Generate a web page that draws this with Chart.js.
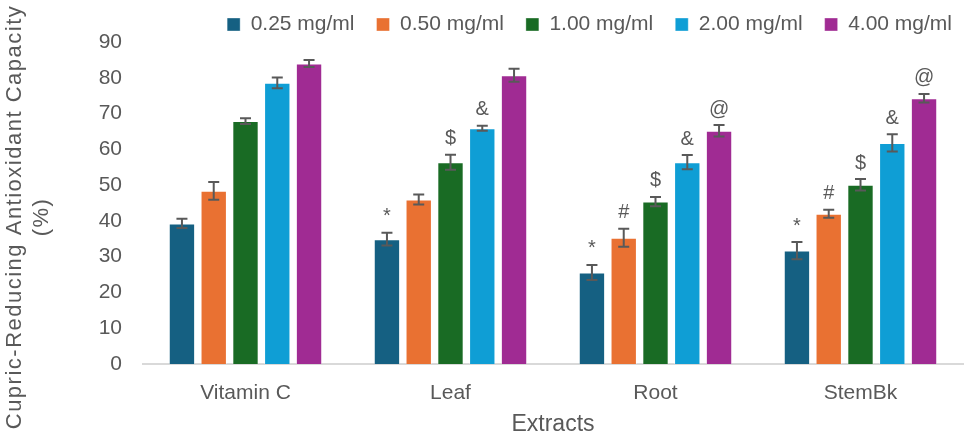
<!DOCTYPE html>
<html>
<head>
<meta charset="utf-8">
<script src="https://cdn.jsdelivr.net/npm/chart.js@4/dist/chart.umd.min.js"></script>
<style>
  html, body { margin: 0; padding: 0; background: #fff; }
  #wrap { width: 965px; height: 435px; position: relative; }
</style>
</head>
<body>
<div id="wrap"><canvas id="chart"></canvas></div>
<script>
// categories and series
const categories = [`Vitamin C`, `Leaf`, `Root`, `StemBk`];
const seriesLabels = [`0.25 mg/ml`, `0.50 mg/ml`, `1.00 mg/ml`, `2.00 mg/ml`, `4.00 mg/ml`];
const colors = [`#156082`, `#E97132`, `#196B24`, `#0F9ED5`, `#A02B93`];

// values
const conc025 = [39.3, 34.9, 25.6, 31.7];
const conc050 = [48.4, 46.0, 35.3, 42.0];
const conc100 = [67.9, 56.4, 45.4, 50.1];
const conc200 = [78.6, 65.9, 56.4, 61.8];
const conc400 = [84.0, 80.7, 65.2, 74.3];

// error bar half-heights
const err025 = [1.3, 1.8, 2.1, 2.4];
const err050 = [2.5, 1.4, 2.5, 1.1];
const err100 = [0.8, 2.1, 1.3, 1.6];
const err200 = [1.5, 0.7, 2.0, 2.4];
const err400 = [1.0, 1.8, 1.6, 1.2];

// significance marks
const mark025 = [``, `*`, `*`, `*`];
const mark050 = [``, ``, `#`, `#`];
const mark100 = [``, `$`, `$`, `$`];
const mark200 = [``, `&`, `&`, `&`];
const mark400 = [``, ``, `@`, `@`];

const yTicks = [0, 10, 20, 30, 40, 50, 60, 70, 80, 90];
const yTitle = [`Cupric-Reducing Antioxidant Capacity`, `(%)`];

const values = [conc025, conc050, conc100, conc200, conc400];
const errors = [err025, err050, err100, err200, err400];
const marks = [mark025, mark050, mark100, mark200, mark400];

const textColor = `#595959`;
const font = `"Liberation Sans", Arial, sans-serif`;

// draws error bars and the marks above them
const errorBars = {
  id: `errorBars`,
  afterDatasetsDraw(chart) {
    const ctx = chart.ctx;
    const y = chart.scales.y;
    ctx.save();
    ctx.strokeStyle = `#595959`;
    ctx.lineWidth = 2;
    ctx.fillStyle = textColor;
    ctx.font = `20px ${font}`;
    ctx.textAlign = `center`;
    ctx.textBaseline = `bottom`;
    values.forEach((series, i) => {
      const meta = chart.getDatasetMeta(i);
      series.forEach((v, j) => {
        const x = meta.data[j].x;
        const top = y.getPixelForValue(v + errors[i][j]);
        const bot = y.getPixelForValue(v - errors[i][j]);
        ctx.beginPath();
        ctx.moveTo(x, top); ctx.lineTo(x, bot);
        ctx.moveTo(x - 5.5, top); ctx.lineTo(x + 5.5, top);
        ctx.moveTo(x - 5.5, bot); ctx.lineTo(x + 5.5, bot);
        ctx.stroke();
        if (marks[i][j]) ctx.fillText(marks[i][j], x, top - 6);
      });
    });
    ctx.restore();
  }
};

// y axis title, two rotated lines with a little letter spacing
const sideTitle = {
  id: `sideTitle`,
  afterDraw(chart) {
    const ctx = chart.ctx;
    ctx.save();
    ctx.fillStyle = textColor;
    ctx.font = `22px ${font}`;
    ctx.letterSpacing = `1.5px`;
    ctx.textAlign = `center`;
    ctx.textBaseline = `middle`;
    ctx.translate(0, 217);
    ctx.rotate(-Math.PI / 2);
    ctx.fillText(yTitle[0], 0, 15);
    ctx.fillText(yTitle[1], 0, 42);
    ctx.restore();
  }
};

// fixed legend band height, and nudge the legend towards the right edge
const legendPlace = {
  id: `legendPlace`,
  beforeInit(chart) {
    const fit = chart.legend.fit;
    chart.legend.fit = function () {
      fit.bind(chart.legend)();
      this.height = 50;
    };
  },
  afterLayout(chart) {
    chart.legend.right += 11;
  }
};

new Chart(document.getElementById(`chart`), {
  type: `bar`,
  data: {
    labels: categories,
    datasets: values.map((data, i) => ({
      label: seriesLabels[i],
      data: data,
      backgroundColor: colors[i],
      borderColor: `rgba(255,255,255,0.35)`,
      borderWidth: 1,
      categoryPercentage: 0.775,
      barPercentage: 0.83
    }))
  },
  options: {
    responsive: true,
    maintainAspectRatio: false,
    animation: false,
    layout: { padding: { top: -8, right: 2, left: 99, bottom: 0 } },
    plugins: {
      tooltip: { enabled: false },
      legend: {
        display: true,
        position: `top`,
        align: `end`,
        labels: {
          color: textColor,
          font: { family: font, size: 21 },
          boxWidth: 13,
          boxHeight: 13,
          padding: 22
        }
      }
    },
    scales: {
      x: {
        afterFit: (scale) => { scale.height = 71; },
        grid: { display: false },
        border: { display: true, color: `#d9d9d9`, width: 2 },
        ticks: { color: textColor, font: { family: font, size: 21 }, padding: 9 },
        title: { display: true, text: `Extracts`, color: textColor, font: { family: font, size: 23 }, padding: { top: 3, bottom: -3 } }
      },
      y: {
        min: 0,
        max: 90,
        afterFit: (scale) => { scale.width = 44; },
        afterBuildTicks: (axis) => { axis.ticks = yTicks.map(v => ({ value: v })); },
        grid: { display: false },
        border: { display: false },
        ticks: { color: textColor, font: { family: font, size: 21 }, padding: 13 }
      }
    }
  },
  plugins: [errorBars, sideTitle, legendPlace]
});
</script>
</body>
</html>
